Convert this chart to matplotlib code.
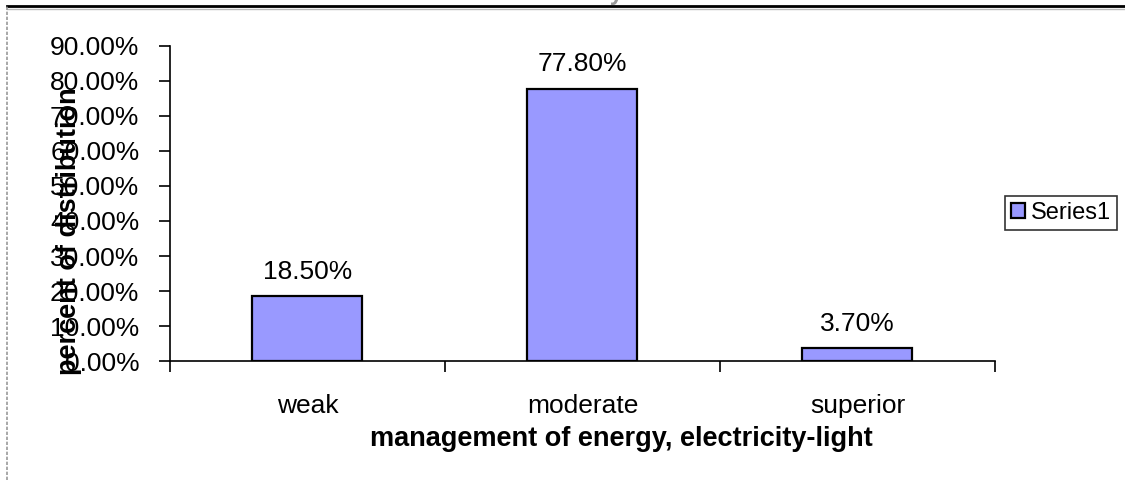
import matplotlib
matplotlib.use("Agg")
import matplotlib.pyplot as plt
from matplotlib.lines import Line2D
from matplotlib.ticker import MultipleLocator, FixedLocator, PercentFormatter

categories = ["weak", "moderate", "superior"]
values = [18.5, 77.8, 3.7]
series_name = "Series1"

plt.rcParams["font.family"] = ["Liberation Sans", "DejaVu Sans"]

fig = plt.figure(figsize=(11.25, 4.8), dpi=100)
ax = fig.add_axes([0.1511, 0.2479, 0.7333, 0.6563])

x = list(range(len(categories)))
bars = ax.bar(x, values, width=0.4, color="#9999FF", edgecolor="black",
              linewidth=1.6, label=series_name, zorder=3)

for xi, v in zip(x, values):
    ax.annotate(f"{v:.2f}%", (xi, v), xytext=(0, 9), textcoords="offset points",
                ha="center", va="bottom", fontsize=19)

ax.set_xlim(-0.5, len(categories) - 0.5)
ax.set_ylim(0, 90)
ax.yaxis.set_major_locator(MultipleLocator(10))
ax.yaxis.set_major_formatter(PercentFormatter(decimals=2))

ax.set_xticks(x)
ax.set_xticklabels(categories, fontsize=19)
ax.xaxis.set_minor_locator(FixedLocator([i - 0.5 for i in range(len(categories) + 1)]))
ax.tick_params(axis="x", which="major", length=0, pad=24)
ax.tick_params(axis="x", which="minor", length=8, width=1.2, direction="out")
ax.tick_params(axis="y", length=8, width=1.2, direction="out", labelsize=19, pad=14)

for side in ("top", "right"):
    ax.spines[side].set_visible(False)
for side in ("left", "bottom"):
    ax.spines[side].set_linewidth(1.2)

ax.set_xlabel("management of energy, electricity-light", fontsize=19.5,
              fontweight="bold")
ax.xaxis.set_label_coords(0.547, -0.205)
fig.text(0.061, 0.518, "percent of distribution", rotation=90, fontsize=19.5,
         fontweight="bold", ha="center", va="center")

# chart title, largely above the visible frame
fig.text(0.505, 1.0, "electricity", fontsize=17, fontweight="bold",
         ha="center", va="baseline", color="#999999",
         transform=fig.transFigure)

leg = ax.legend(loc="center left", bbox_to_anchor=(1.012, 0.47), fontsize=17,
                frameon=True, fancybox=False, edgecolor="black",
                handlelength=0.6, handleheight=0.6, handletextpad=0.25,
                borderpad=0.25, borderaxespad=0)
leg.get_frame().set_linewidth(1.2)

# outer frame of the chart area
fig.add_artist(Line2D([7 / 1125, 1], [1 - 6 / 480, 1 - 6 / 480],
                      transform=fig.transFigure, color="black", lw=2))
fig.add_artist(Line2D([7 / 1125, 1], [1 - 8.5 / 480, 1 - 8.5 / 480],
                      transform=fig.transFigure, color="#bbbbbb", lw=1))
fig.add_artist(Line2D([7 / 1125, 7 / 1125], [0, 1 - 6 / 480],
                      transform=fig.transFigure, color="#999999", lw=1.2,
                      linestyle=(0, (2, 1))))

fig.savefig("out.png", dpi=100)
